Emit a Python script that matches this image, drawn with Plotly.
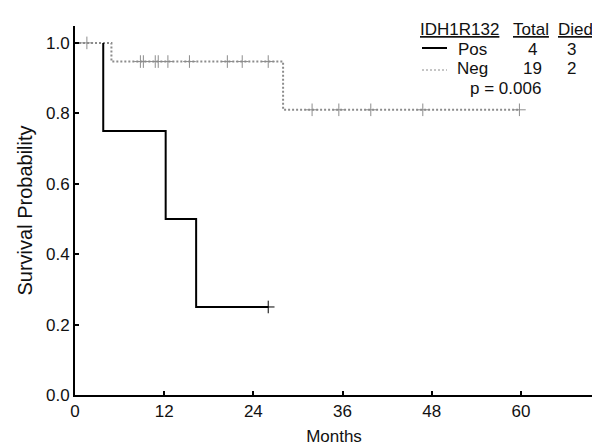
import plotly.graph_objects as go

# ---- data ----
pos_event_times = [3.8, 12.2, 16.3]
pos_surv = [0.75, 0.50, 0.25]
pos_censor_times = [26.0]

neg_event_times = [4.9, 28.0]
neg_surv = [0.947, 0.81]
neg_censor_times = [1.6, 8.8, 9.2, 10.8, 11.2, 12.5, 15.4, 20.5, 22.5, 26.0,
                    31.9, 35.5, 39.8, 46.8, 59.8]

legend_header = ["IDH1R132", "Total", "Died"]
groups = ["Pos", "Neg"]
totals = [4, 19]
died = [3, 2]
p_text = "p = 0.006"

x_ticks = [0, 12, 24, 36, 48, 60]
y_ticks = [0.0, 0.2, 0.4, 0.6, 0.8, 1.0]


def step_path(times, surv, end_time, include_start=True):
    xs, ys = [], []
    prev = 1.0
    if include_start:
        xs.append(0); ys.append(prev)
    for t, s in zip(times, surv):
        xs += [t, t]
        ys += [prev, s]
        prev = s
    xs.append(end_time); ys.append(prev)
    return xs, ys


def surv_at(times, surv, t):
    s = 1.0
    for et, es in zip(times, surv):
        if t >= et:
            s = es
    return s


FONT = "Liberation Sans, Arial, sans-serif"
GRAY = "#8c8c8c"

fig = go.Figure()

# Neg curve
nx, ny = step_path(neg_event_times, neg_surv, max(neg_censor_times))
fig.add_trace(go.Scatter(x=nx, y=ny, mode="lines",
                         line=dict(color=GRAY, width=2, dash="2px,2px"),
                         hoverinfo="skip", showlegend=False))
fig.add_trace(go.Scatter(x=neg_censor_times,
                         y=[surv_at(neg_event_times, neg_surv, t) for t in neg_censor_times],
                         mode="markers",
                         marker=dict(symbol="cross-thin", size=9,
                                     line=dict(color=GRAY, width=1)),
                         showlegend=False))

# Pos curve
px_, py_ = step_path(pos_event_times, pos_surv, max(pos_censor_times), include_start=False)
fig.add_trace(go.Scatter(x=px_, y=py_, mode="lines",
                         line=dict(color="black", width=2),
                         hoverinfo="skip", showlegend=False))
fig.add_trace(go.Scatter(x=pos_censor_times,
                         y=[surv_at(pos_event_times, pos_surv, t) for t in pos_censor_times],
                         mode="markers",
                         marker=dict(symbol="cross-thin", size=9,
                                     line=dict(color="black", width=1)),
                         showlegend=False))

# ---- pixel helpers for legend placement ----
L, R, T, B = 67, 585, 18, 387


def pxx(p):
    return (p - L) / (R - L)


def pyy(p):
    return (B - p) / (B - T)


FS = 17
ann = []
header_x = [451, 523, 567]
for h, xx in zip(legend_header, header_x):
    ann.append(dict(x=pxx(xx), y=pyy(21), text="<u>%s</u>" % h))
row_y = [41, 61]
for g, tot, d, ry in zip(groups, totals, died, row_y):
    ann.append(dict(x=pxx(464), y=pyy(ry), text=g))
    ann.append(dict(x=pxx(524), y=pyy(ry), text=str(tot)))
    ann.append(dict(x=pxx(563), y=pyy(ry), text=str(d)))
ann.append(dict(x=pxx(497), y=pyy(80), text=p_text))
for a in ann:
    a.update(xref="paper", yref="paper", showarrow=False, xanchor="center",
             yanchor="middle", font=dict(family=FONT, size=FS, color="#111"))

shapes = [
    dict(type="line", xref="paper", yref="paper", x0=pxx(414), x1=pxx(439),
         y0=pyy(40), y1=pyy(40), line=dict(color="black", width=2)),
    dict(type="line", xref="paper", yref="paper", x0=pxx(414), x1=pxx(439),
         y0=pyy(62), y1=pyy(62), line=dict(color=GRAY, width=1, dash="2px,2px")),
]

fig.update_layout(
    width=600, height=446,
    margin=dict(l=L, r=600 - R, t=T, b=446 - B),
    paper_bgcolor="white", plot_bgcolor="white",
    font=dict(family=FONT, size=FS, color="#111"),
    annotations=ann, shapes=shapes,
    xaxis=dict(range=[0, 69.7], tickvals=x_ticks, ticktext=[str(v) for v in x_ticks],
               showgrid=False, zeroline=False, showline=True, linecolor="black",
               linewidth=2, ticks="inside", ticklen=4, tickwidth=2, tickcolor="black",
               title=dict(text="Months", font=dict(family=FONT, size=FS), standoff=10),
               tickfont=dict(family=FONT, size=FS)),
    yaxis=dict(range=[0, 1.048], tickvals=y_ticks, ticktext=["%.1f" % v for v in y_ticks],
               showgrid=False, zeroline=False, showline=True, linecolor="black",
               linewidth=2, ticks="inside", ticklen=4, tickwidth=2, tickcolor="black",
               title=dict(text="Survival Probability", font=dict(family=FONT, size=20), standoff=8),
               tickfont=dict(family=FONT, size=FS)),
)

fig.write_html("out.html")
